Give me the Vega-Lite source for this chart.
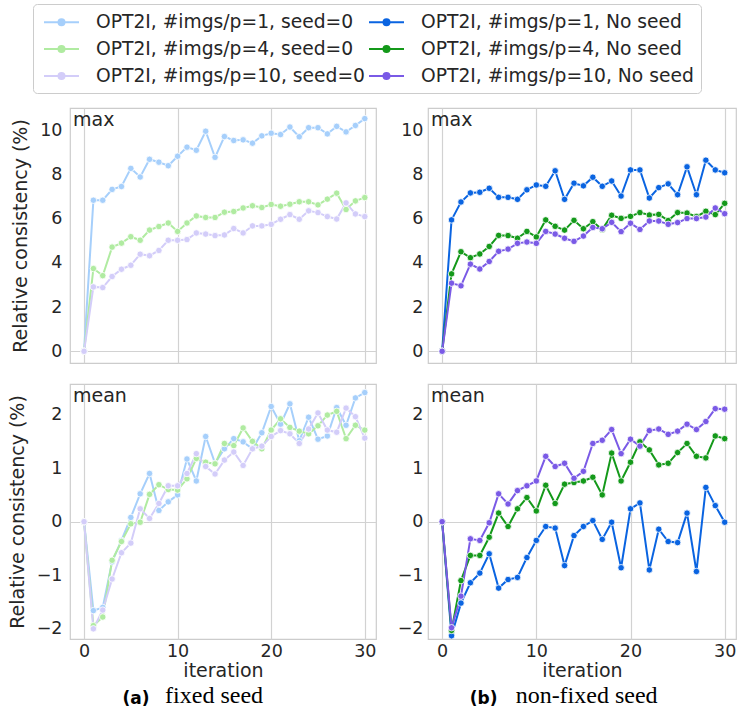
{
  "$schema": "https://vega.github.io/schema/vega-lite/v6.json",
  "padding": {"left": 7, "top": 3, "right": 0, "bottom": 5},
  "background": "white",
  "datasets": {
    "names": [
      {"k": "a1", "series": "OPT2I, #imgs/p=1, seed=0"},
      {"k": "a4", "series": "OPT2I, #imgs/p=4, seed=0"},
      {"k": "a10", "series": "OPT2I, #imgs/p=10, seed=0"},
      {"k": "b1", "series": "OPT2I, #imgs/p=1, No seed"},
      {"k": "b4", "series": "OPT2I, #imgs/p=4, No seed"},
      {"k": "b10", "series": "OPT2I, #imgs/p=10, No seed"}
    ],
    "vals": [
      {"metric": "max", "it": 0, "a1": 0, "a4": 0, "a10": 0, "b1": 0, "b4": 0, "b10": 0},
      {"metric": "max", "it": 1, "a1": 6.83, "a4": 3.74, "a10": 2.91, "b1": 5.94, "b4": 3.50, "b10": 3.08},
      {"metric": "max", "it": 2, "a1": 6.83, "a4": 3.42, "a10": 2.88, "b1": 6.75, "b4": 4.50, "b10": 2.96},
      {"metric": "max", "it": 3, "a1": 7.32, "a4": 4.71, "a10": 3.38, "b1": 7.16, "b4": 4.23, "b10": 3.94},
      {"metric": "max", "it": 4, "a1": 7.45, "a4": 4.89, "a10": 3.71, "b1": 7.19, "b4": 4.40, "b10": 3.72},
      {"metric": "max", "it": 5, "a1": 8.27, "a4": 5.18, "a10": 3.89, "b1": 7.37, "b4": 4.74, "b10": 4.06},
      {"metric": "max", "it": 6, "a1": 7.88, "a4": 5.02, "a10": 4.39, "b1": 6.96, "b4": 5.24, "b10": 4.52},
      {"metric": "max", "it": 7, "a1": 8.68, "a4": 5.48, "a10": 4.32, "b1": 6.96, "b4": 5.23, "b10": 4.62},
      {"metric": "max", "it": 8, "a1": 8.55, "a4": 5.64, "a10": 4.56, "b1": 6.87, "b4": 5.11, "b10": 4.88},
      {"metric": "max", "it": 9, "a1": 8.39, "a4": 5.80, "a10": 5.02, "b1": 7.30, "b4": 5.42, "b10": 4.94},
      {"metric": "max", "it": 10, "a1": 8.82, "a4": 5.42, "a10": 5.02, "b1": 7.52, "b4": 5.17, "b10": 4.88},
      {"metric": "max", "it": 11, "a1": 9.23, "a4": 5.80, "a10": 5.05, "b1": 7.46, "b4": 5.94, "b10": 5.42},
      {"metric": "max", "it": 12, "a1": 9.09, "a4": 6.12, "a10": 5.35, "b1": 8.16, "b4": 5.65, "b10": 5.30},
      {"metric": "max", "it": 13, "a1": 9.95, "a4": 6.05, "a10": 5.30, "b1": 6.87, "b4": 5.48, "b10": 5.11},
      {"metric": "max", "it": 14, "a1": 8.77, "a4": 6.05, "a10": 5.23, "b1": 7.60, "b4": 5.92, "b10": 4.97},
      {"metric": "max", "it": 15, "a1": 9.71, "a4": 6.29, "a10": 5.26, "b1": 7.48, "b4": 5.54, "b10": 5.21},
      {"metric": "max", "it": 16, "a1": 9.53, "a4": 6.32, "a10": 5.55, "b1": 7.87, "b4": 5.86, "b10": 5.60},
      {"metric": "max", "it": 17, "a1": 9.56, "a4": 6.48, "a10": 5.35, "b1": 7.46, "b4": 5.51, "b10": 5.54},
      {"metric": "max", "it": 18, "a1": 9.41, "a4": 6.58, "a10": 5.67, "b1": 7.70, "b4": 6.15, "b10": 5.83},
      {"metric": "max", "it": 19, "a1": 9.74, "a4": 6.50, "a10": 5.67, "b1": 7.02, "b4": 6.01, "b10": 5.41},
      {"metric": "max", "it": 20, "a1": 9.86, "a4": 6.64, "a10": 5.74, "b1": 8.20, "b4": 6.10, "b10": 5.79},
      {"metric": "max", "it": 21, "a1": 9.80, "a4": 6.56, "a10": 5.97, "b1": 8.20, "b4": 6.27, "b10": 5.51},
      {"metric": "max", "it": 22, "a1": 10.14, "a4": 6.65, "a10": 6.18, "b1": 6.93, "b4": 6.16, "b10": 5.89},
      {"metric": "max", "it": 23, "a1": 9.70, "a4": 6.76, "a10": 5.97, "b1": 7.40, "b4": 6.19, "b10": 5.89},
      {"metric": "max", "it": 24, "a1": 10.11, "a4": 6.76, "a10": 6.35, "b1": 7.57, "b4": 5.91, "b10": 5.74},
      {"metric": "max", "it": 25, "a1": 10.11, "a4": 6.62, "a10": 6.27, "b1": 7.08, "b4": 6.27, "b10": 5.82},
      {"metric": "max", "it": 26, "a1": 9.83, "a4": 6.88, "a10": 6.09, "b1": 8.34, "b4": 6.25, "b10": 6.00},
      {"metric": "max", "it": 27, "a1": 10.17, "a4": 7.15, "a10": 5.98, "b1": 7.08, "b4": 6.09, "b10": 6.00},
      {"metric": "max", "it": 28, "a1": 9.92, "a4": 6.41, "a10": 6.71, "b1": 8.64, "b4": 6.33, "b10": 6.07},
      {"metric": "max", "it": 29, "a1": 10.21, "a4": 6.80, "a10": 6.21, "b1": 8.20, "b4": 6.18, "b10": 6.48},
      {"metric": "max", "it": 30, "a1": 10.52, "a4": 6.95, "a10": 6.09, "b1": 8.07, "b4": 6.69, "b10": 6.22},
      {"metric": "mean", "it": 0, "a1": 0, "a4": 0, "a10": 0, "b1": 0, "b4": 0, "b10": 0},
      {"metric": "mean", "it": 1, "a1": -1.66, "a4": -1.94, "a10": -2.00, "b1": -2.13, "b4": -2.03, "b10": -1.98},
      {"metric": "mean", "it": 2, "a1": -1.60, "a4": -1.78, "a10": -1.65, "b1": -1.52, "b4": -1.10, "b10": -1.39},
      {"metric": "mean", "it": 3, "a1": -0.75, "a4": -0.72, "a10": -1.07, "b1": -1.14, "b4": -0.63, "b10": -0.32},
      {"metric": "mean", "it": 4, "a1": -0.35, "a4": -0.37, "a10": -0.58, "b1": -0.96, "b4": -0.63, "b10": -0.35},
      {"metric": "mean", "it": 5, "a1": 0.08, "a4": -0.04, "a10": -0.40, "b1": -0.60, "b4": -0.29, "b10": -0.02},
      {"metric": "mean", "it": 6, "a1": 0.52, "a4": -0.01, "a10": 0.24, "b1": -1.24, "b4": 0.16, "b10": 0.52},
      {"metric": "mean", "it": 7, "a1": 0.90, "a4": 0.51, "a10": 0.06, "b1": -1.08, "b4": -0.09, "b10": 0.33},
      {"metric": "mean", "it": 8, "a1": 0.21, "a4": 0.69, "a10": 0.34, "b1": -1.04, "b4": 0.24, "b10": 0.58},
      {"metric": "mean", "it": 9, "a1": 0.37, "a4": 0.60, "a10": 0.67, "b1": -0.67, "b4": 0.45, "b10": 0.67},
      {"metric": "mean", "it": 10, "a1": 0.50, "a4": 0.59, "a10": 0.67, "b1": -0.35, "b4": 0.20, "b10": 0.76},
      {"metric": "mean", "it": 11, "a1": 1.17, "a4": 0.80, "a10": 0.90, "b1": -0.09, "b4": 0.68, "b10": 1.22},
      {"metric": "mean", "it": 12, "a1": 0.76, "a4": 1.18, "a10": 1.27, "b1": -0.12, "b4": 0.34, "b10": 1.03},
      {"metric": "mean", "it": 13, "a1": 1.59, "a4": 1.11, "a10": 1.03, "b1": -0.82, "b4": 0.70, "b10": 1.09},
      {"metric": "mean", "it": 14, "a1": 1.09, "a4": 1.08, "a10": 0.89, "b1": -0.26, "b4": 0.73, "b10": 0.81},
      {"metric": "mean", "it": 15, "a1": 1.36, "a4": 1.46, "a10": 1.15, "b1": -0.09, "b4": 0.76, "b10": 0.94},
      {"metric": "mean", "it": 16, "a1": 1.55, "a4": 1.42, "a10": 1.30, "b1": 0.02, "b4": 0.83, "b10": 1.46},
      {"metric": "mean", "it": 17, "a1": 1.49, "a4": 1.75, "a10": 1.05, "b1": -0.33, "b4": 0.50, "b10": 1.52},
      {"metric": "mean", "it": 18, "a1": 1.36, "a4": 1.50, "a10": 1.36, "b1": -0.01, "b4": 1.28, "b10": 1.72},
      {"metric": "mean", "it": 19, "a1": 1.66, "a4": 1.36, "a10": 1.41, "b1": -0.86, "b4": 0.76, "b10": 1.27},
      {"metric": "mean", "it": 20, "a1": 2.15, "a4": 1.71, "a10": 1.59, "b1": 0.24, "b4": 1.11, "b10": 1.54},
      {"metric": "mean", "it": 21, "a1": 1.82, "a4": 1.92, "a10": 1.70, "b1": 0.35, "b4": 1.49, "b10": 1.41},
      {"metric": "mean", "it": 22, "a1": 2.20, "a4": 1.76, "a10": 1.64, "b1": -0.90, "b4": 1.34, "b10": 1.70},
      {"metric": "mean", "it": 23, "a1": 1.51, "a4": 1.69, "a10": 1.46, "b1": -0.14, "b4": 1.06, "b10": 1.73},
      {"metric": "mean", "it": 24, "a1": 1.95, "a4": 1.64, "a10": 1.73, "b1": -0.37, "b4": 1.09, "b10": 1.63},
      {"metric": "mean", "it": 25, "a1": 1.54, "a4": 1.79, "a10": 2.03, "b1": -0.39, "b4": 1.29, "b10": 1.69},
      {"metric": "mean", "it": 26, "a1": 1.60, "a4": 1.99, "a10": 1.71, "b1": 0.16, "b4": 1.46, "b10": 1.82},
      {"metric": "mean", "it": 27, "a1": 2.13, "a4": 2.06, "a10": 1.67, "b1": -0.93, "b4": 1.22, "b10": 1.72},
      {"metric": "mean", "it": 28, "a1": 1.80, "a4": 1.55, "a10": 2.12, "b1": 0.64, "b4": 1.19, "b10": 1.87},
      {"metric": "mean", "it": 29, "a1": 2.31, "a4": 1.80, "a10": 1.96, "b1": 0.30, "b4": 1.60, "b10": 2.11},
      {"metric": "mean", "it": 30, "a1": 2.41, "a4": 1.71, "a10": 1.56, "b1": -0.01, "b4": 1.55, "b10": 2.10}
    ]
  },
  "config": {
    "font": "DejaVu Sans",
    "view": {"stroke": "#cccccc", "strokeWidth": 1.2},
    "axis": {
      "labelFont": "DejaVu Sans", "labelFontSize": 17.5, "labelColor": "#262626",
      "titleFont": "DejaVu Sans", "titleFontSize": 19, "titleFontWeight": "normal", "titleColor": "#262626",
      "ticks": false, "domain": false, "gridColor": "#d2d2d2", "gridWidth": 1.2
    },
    "legend": {
      "orient": "none", "legendX": -37, "legendY": -104, "columns": 2,
      "labelFont": "DejaVu Sans", "labelFontSize": 18.7, "labelColor": "#262626", "labelLimit": 400,
      "symbolType": "M-0.7,0L2.8,0M0.75,0A0.3,0.3 0 1 1 1.35,0A0.3,0.3 0 1 1 0.75,0Z",
      "symbolSize": 400, "symbolStrokeWidth": 2,
      "strokeColor": "#cccccc", "cornerRadius": 4, "fillColor": "white",
      "padding": 7, "rowPadding": 6, "columnPadding": -6, "labelOffset": 34
    }
  },
  "hconcat": [
    {
      "title": {"text": "fixed seed", "orient": "bottom", "anchor": "middle", "font": "Liberation Serif", "fontSize": 24, "fontWeight": "normal", "color": "black", "baseline": "alphabetic", "dx": 22, "dy": -4, "offset": 0},
      "spacing": 19,
      "vconcat": [
        {
          "width": 306, "height": 255,
          "data": {"name": "vals"},
          "transform": [
            {"filter": {"field": "metric", "equal": "max"}},
            {"fold": ["a1", "a4", "a10"], "as": ["k", "v"]},
            {"lookup": "k", "from": {"data": {"name": "names"}, "key": "k", "fields": ["series"]}}
          ],
          "title": {"text": "max", "orient": "top", "anchor": "start", "frame": "group", "offset": -22, "dx": 3, "fontSize": 19, "fontWeight": "normal", "color": "#262626", "font": "DejaVu Sans"},
          "encoding": {
            "x": {"field": "it", "type": "quantitative", "scale": {"domain": [-1.5, 31.2], "nice": false, "zero": false},
                  "axis": {"values": [0, 10, 20, 30], "labels": false, "title": null, "grid": true}},
            "y": {"field": "v", "type": "quantitative", "scale": {"domain": [-0.53, 11.0], "nice": false, "zero": false},
                  "axis": {"values": [0, 2, 4, 6, 8, 10], "title": "Relative consistency (%)", "labelPadding": 8, "titlePadding": 9,
                           "grid": true, "gridColor": {"condition": {"test": "datum.value === 0", "value": "#d2d2d2"}, "value": "transparent"}}},
            "color": {"field": "series", "type": "nominal",
                      "scale": {"domain": ["OPT2I, #imgs/p=1, seed=0", "OPT2I, #imgs/p=4, seed=0", "OPT2I, #imgs/p=10, seed=0", "OPT2I, #imgs/p=1, No seed", "OPT2I, #imgs/p=4, No seed", "OPT2I, #imgs/p=10, No seed"],
                                "range": ["#a6cffb", "#b0eba1", "#d3cdf9", "#0a64e1", "#14991a", "#7a5ae6"]},
                      "legend": {"title": null, "encode": {"symbols": {"update": {"fill": {"scale": "color", "field": "value"}, "stroke": {"scale": "color", "field": "value"}, "strokeWidth": {"value": 2}}}}}}
          },
          "layer": [
            {"mark": {"type": "line", "strokeWidth": 2, "clip": true}},
            {"mark": {"type": "point", "filled": true, "size": 42, "stroke": "white", "strokeWidth": 0.8, "opacity": 1, "clip": true}}
          ]
        },
        {
          "title": {"text": "(a)", "orient": "bottom", "anchor": "middle", "frame": "bounds", "font": "DejaVu Sans", "fontSize": 17, "fontWeight": "bold", "color": "black", "baseline": "alphabetic", "dx": -56, "offset": 23},
          "vconcat": [
            {
              "width": 306, "height": 255,
              "data": {"name": "vals"},
              "transform": [
                {"filter": {"field": "metric", "equal": "mean"}},
                {"fold": ["a1", "a4", "a10"], "as": ["k", "v"]},
                {"lookup": "k", "from": {"data": {"name": "names"}, "key": "k", "fields": ["series"]}}
              ],
              "title": {"text": "mean", "orient": "top", "anchor": "start", "frame": "group", "offset": -22, "dx": 3, "fontSize": 19, "fontWeight": "normal", "color": "#262626", "font": "DejaVu Sans"},
              "encoding": {
                "x": {"field": "it", "type": "quantitative", "scale": {"domain": [-1.5, 31.2], "nice": false, "zero": false},
                      "axis": {"values": [0, 10, 20, 30], "title": "iteration", "grid": true, "labelPadding": 3, "titlePadding": 2}},
                "y": {"field": "v", "type": "quantitative", "scale": {"domain": [-2.19, 2.57], "nice": false, "zero": false},
                      "axis": {"values": [-2, -1, 0, 1, 2], "title": "Relative consistency (%)", "labelPadding": 8, "titlePadding": 9,
                               "labelExpr": "replace(datum.label, '-', '−')",
                               "grid": true, "gridColor": {"condition": {"test": "datum.value === 0", "value": "#d2d2d2"}, "value": "transparent"}}},
                "color": {"field": "series", "type": "nominal",
                          "scale": {"domain": ["OPT2I, #imgs/p=1, seed=0", "OPT2I, #imgs/p=4, seed=0", "OPT2I, #imgs/p=10, seed=0", "OPT2I, #imgs/p=1, No seed", "OPT2I, #imgs/p=4, No seed", "OPT2I, #imgs/p=10, No seed"],
                                    "range": ["#a6cffb", "#b0eba1", "#d3cdf9", "#0a64e1", "#14991a", "#7a5ae6"]},
                          "legend": {"title": null, "encode": {"symbols": {"update": {"fill": {"scale": "color", "field": "value"}, "stroke": {"scale": "color", "field": "value"}, "strokeWidth": {"value": 2}}}}}}
              },
              "layer": [
                {"mark": {"type": "line", "strokeWidth": 2, "clip": true}},
                {"mark": {"type": "point", "filled": true, "size": 42, "stroke": "white", "strokeWidth": 0.8, "opacity": 1, "clip": true}}
              ]
            }
          ]
        }
      ]
    },
    {
      "title": {"text": "non-fixed seed", "orient": "bottom", "anchor": "middle", "font": "Liberation Serif", "fontSize": 24, "fontWeight": "normal", "color": "black", "baseline": "alphabetic", "dx": 20, "dy": -4, "offset": 0},
      "spacing": 19,
      "vconcat": [
        {
          "width": 308, "height": 255,
          "data": {"name": "vals"},
          "transform": [
            {"filter": {"field": "metric", "equal": "max"}},
            {"fold": ["b1", "b4", "b10"], "as": ["k", "v"]},
            {"lookup": "k", "from": {"data": {"name": "names"}, "key": "k", "fields": ["series"]}}
          ],
          "title": {"text": "max", "orient": "top", "anchor": "start", "frame": "group", "offset": -22, "dx": 3, "fontSize": 19, "fontWeight": "normal", "color": "#262626", "font": "DejaVu Sans"},
          "encoding": {
            "x": {"field": "it", "type": "quantitative", "scale": {"domain": [-1.5, 31.2], "nice": false, "zero": false},
                  "axis": {"values": [0, 10, 20, 30], "labels": false, "title": null, "grid": true}},
            "y": {"field": "v", "type": "quantitative", "scale": {"domain": [-0.53, 11.0], "nice": false, "zero": false},
                  "axis": {"values": [0, 2, 4, 6, 8, 10], "title": null, "labelPadding": 5,
                           "grid": true, "gridColor": {"condition": {"test": "datum.value === 0", "value": "#d2d2d2"}, "value": "transparent"}}},
            "color": {"field": "series", "type": "nominal",
                      "scale": {"domain": ["OPT2I, #imgs/p=1, seed=0", "OPT2I, #imgs/p=4, seed=0", "OPT2I, #imgs/p=10, seed=0", "OPT2I, #imgs/p=1, No seed", "OPT2I, #imgs/p=4, No seed", "OPT2I, #imgs/p=10, No seed"],
                                "range": ["#a6cffb", "#b0eba1", "#d3cdf9", "#0a64e1", "#14991a", "#7a5ae6"]},
                      "legend": {"title": null, "encode": {"symbols": {"update": {"fill": {"scale": "color", "field": "value"}, "stroke": {"scale": "color", "field": "value"}, "strokeWidth": {"value": 2}}}}}}
          },
          "layer": [
            {"mark": {"type": "line", "strokeWidth": 2, "clip": true}},
            {"mark": {"type": "point", "filled": true, "size": 42, "stroke": "white", "strokeWidth": 0.8, "opacity": 1, "clip": true}}
          ]
        },
        {
          "title": {"text": "(b)", "orient": "bottom", "anchor": "middle", "frame": "bounds", "font": "DejaVu Sans", "fontSize": 17, "fontWeight": "bold", "color": "black", "baseline": "alphabetic", "dx": -83, "offset": 23},
          "vconcat": [
            {
              "width": 308, "height": 255,
              "data": {"name": "vals"},
              "transform": [
                {"filter": {"field": "metric", "equal": "mean"}},
                {"fold": ["b1", "b4", "b10"], "as": ["k", "v"]},
                {"lookup": "k", "from": {"data": {"name": "names"}, "key": "k", "fields": ["series"]}}
              ],
              "title": {"text": "mean", "orient": "top", "anchor": "start", "frame": "group", "offset": -22, "dx": 3, "fontSize": 19, "fontWeight": "normal", "color": "#262626", "font": "DejaVu Sans"},
              "encoding": {
                "x": {"field": "it", "type": "quantitative", "scale": {"domain": [-1.5, 31.2], "nice": false, "zero": false},
                      "axis": {"values": [0, 10, 20, 30], "title": "iteration", "grid": true, "labelPadding": 3, "titlePadding": 2}},
                "y": {"field": "v", "type": "quantitative", "scale": {"domain": [-2.19, 2.57], "nice": false, "zero": false},
                      "axis": {"values": [-2, -1, 0, 1, 2], "title": null, "labelPadding": 5,
                               "labelExpr": "replace(datum.label, '-', '−')",
                               "grid": true, "gridColor": {"condition": {"test": "datum.value === 0", "value": "#d2d2d2"}, "value": "transparent"}}},
                "color": {"field": "series", "type": "nominal",
                          "scale": {"domain": ["OPT2I, #imgs/p=1, seed=0", "OPT2I, #imgs/p=4, seed=0", "OPT2I, #imgs/p=10, seed=0", "OPT2I, #imgs/p=1, No seed", "OPT2I, #imgs/p=4, No seed", "OPT2I, #imgs/p=10, No seed"],
                                    "range": ["#a6cffb", "#b0eba1", "#d3cdf9", "#0a64e1", "#14991a", "#7a5ae6"]},
                          "legend": {"title": null, "encode": {"symbols": {"update": {"fill": {"scale": "color", "field": "value"}, "stroke": {"scale": "color", "field": "value"}, "strokeWidth": {"value": 2}}}}}}
              },
              "layer": [
                {"mark": {"type": "line", "strokeWidth": 2, "clip": true}},
                {"mark": {"type": "point", "filled": true, "size": 42, "stroke": "white", "strokeWidth": 0.8, "opacity": 1, "clip": true}}
              ]
            }
          ]
        }
      ]
    }
  ],
  "spacing": 19
}
